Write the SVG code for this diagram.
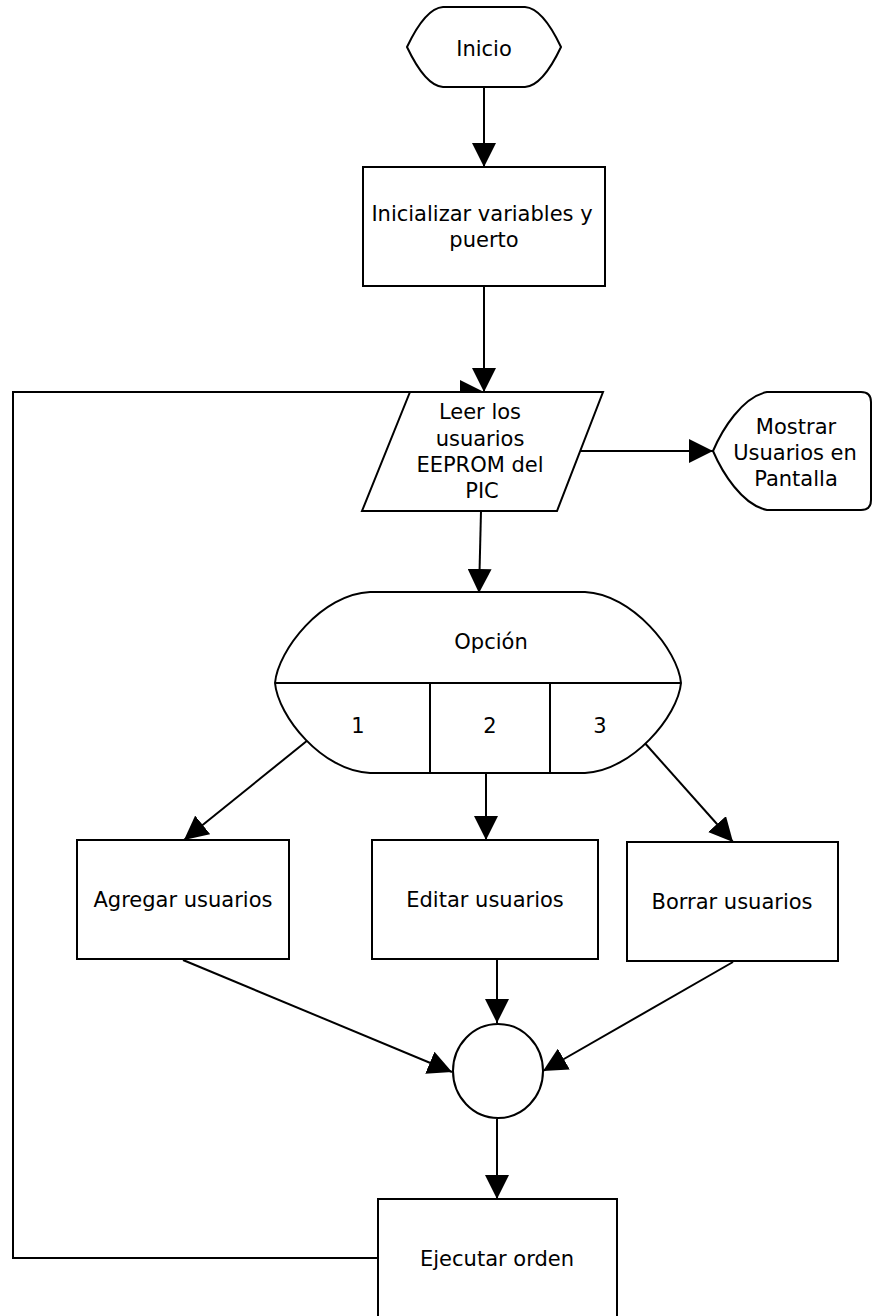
<svg xmlns="http://www.w3.org/2000/svg" width="872" height="1316" viewBox="0 0 872 1316">
<style>
.s{fill:#fff;stroke:#000;stroke-width:2}
.c{fill:none;stroke:#000;stroke-width:2}
text{font-family:"DejaVu Sans","Liberation Sans",sans-serif;font-size:21px;fill:#000;text-anchor:middle}
</style>
<defs>
<marker id="ah" markerUnits="userSpaceOnUse" markerWidth="24" markerHeight="24" refX="24" refY="12" orient="auto">
<path d="M0,0 L24,12 L0,24 Z" fill="#000"/>
</marker>
</defs>
<rect width="872" height="1316" fill="#fff"/>
<g id="connectors" class="c">
<path d="M484,87 V167" marker-end="url(#ah)"/>
<path d="M484,286 V392" marker-end="url(#ah)"/>
<path d="M378,1258 H13 V392 H484" marker-end="url(#ah)"/>
<path d="M580,451 H713" marker-end="url(#ah)"/>
<path d="M481,511 L479,593" marker-end="url(#ah)"/>
<path d="M308,740 L184,840" marker-end="url(#ah)"/>
<path d="M486,773 V840" marker-end="url(#ah)"/>
<path d="M643,741 L733,842" marker-end="url(#ah)"/>
<path d="M183,960 L452,1072" marker-end="url(#ah)"/>
<path d="M497,958 V1023" marker-end="url(#ah)"/>
<path d="M733,962 L543,1071" marker-end="url(#ah)"/>
<path d="M497,1119 V1199" marker-end="url(#ah)"/>
</g>
<g id="inicio">
<path class="s" d="M443,7 H525 C540,8 552,28 561,47 C552,66 540,86 525,87 H443 C428,86 416,66 407,47 C416,28 428,8 443,7 Z"/>
<text x="484" y="56">Inicio</text>
</g>
<g id="inicializar">
<rect class="s" x="363" y="167" width="242" height="119"/>
<text x="482" y="221">Inicializar variables y</text>
<text x="484" y="247">puerto</text>
</g>
<g id="leer">
<path class="s" d="M410,392 H603 L557,511 H362 Z"/>
<text x="480" y="419">Leer los</text>
<text x="480" y="446">usuarios</text>
<text x="480" y="472">EEPROM del</text>
<text x="482" y="498">PIC</text>
</g>
<g id="mostrar">
<path class="s" d="M767,392 H861 Q871,392 871,402 V500 Q871,510 861,510 H767 C742,505 722,472 713,451 C722,430 742,397 767,392 Z"/>
<text x="796" y="434">Mostrar</text>
<text x="795" y="460">Usuarios en</text>
<text x="796" y="486">Pantalla</text>
</g>
<g id="opcion">
<path class="s" d="M370,592 H585 C632,594 678,650 681,683 C678,716 632,771 585,773 H370 C322,771 278,716 275,683 C278,650 322,594 370,592 Z"/>
<path class="c" d="M275,683 H681 M430,683 V773 M550,683 V773"/>
<text x="491" y="649">Opción</text>
<text x="358" y="733">1</text>
<text x="490" y="733">2</text>
<text x="600" y="733">3</text>
</g>
<g id="agregar">
<rect class="s" x="77" y="840" width="212" height="119"/>
<text x="183" y="907">Agregar usuarios</text>
</g>
<g id="editar">
<rect class="s" x="372" y="840" width="226" height="119"/>
<text x="485" y="907">Editar usuarios</text>
</g>
<g id="borrar">
<rect class="s" x="627" y="842" width="211" height="119"/>
<text x="732" y="909">Borrar usuarios</text>
</g>
<g id="union">
<ellipse class="s" cx="498" cy="1071" rx="45" ry="47"/>
</g>
<g id="ejecutar">
<rect class="s" x="378" y="1199" width="239" height="125"/>
<text x="497" y="1266">Ejecutar orden</text>
</g>
</svg>
